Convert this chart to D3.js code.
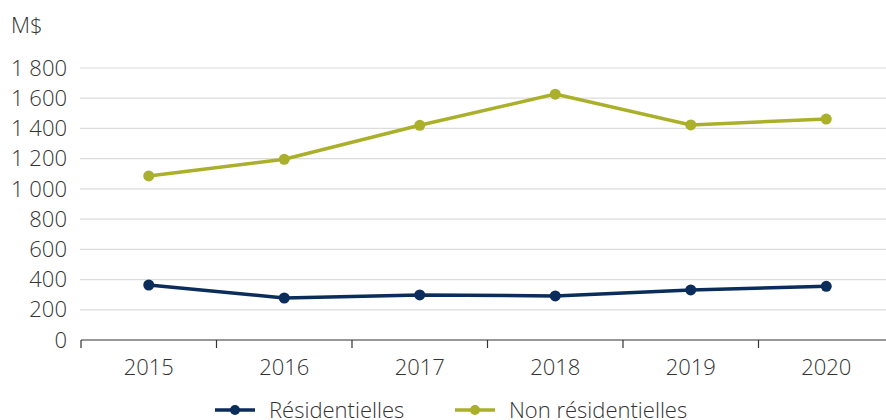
<!DOCTYPE html>
<html lang="fr">
<head>
  <meta charset="UTF-8">
  <title>M$</title>
  <script src="https://d3js.org/d3.v7.min.js"></script>
  <style>
    body { margin: 0; background: #fff; font-family: "Open Sans", sans-serif; }
    svg { display: block; }
    text { fill: #333; font-weight: 300; }
  </style>
</head>
<body>
  <svg width="886" height="420"></svg>
  <script>
    const years = ["2015", "2016", "2017", "2018", "2019", "2020"];
    const residentielles = [364, 278, 298, 292, 331, 355];
    const nonResidentielles = [1086, 1196, 1421, 1627, 1423, 1462];
    const yTicks = [0, 200, 400, 600, 800, 1000, 1200, 1400, 1600, 1800];
    const seriesNames = ["Résidentielles", "Non résidentielles"];
    const seriesColors = ["#0b2d5b", "#abb02a"];

    const svg = d3.select("svg");
    const x = d3.scaleBand().domain(years).range([81, 894]);
    const y = d3.scaleLinear().domain([0, 1800]).range([340, 68]);
    const fmt = v => d3.format(",")(v).replace(",", " ");

    // grid
    svg.append("g").selectAll("line").data(yTicks.slice(1)).join("line")
      .attr("x1", 80).attr("x2", 886)
      .attr("y1", d => y(d)).attr("y2", d => y(d))
      .attr("stroke", "#dcdcdc").attr("stroke-width", 1.2);

    // y labels
    svg.append("g").selectAll("text").data(yTicks).join("text")
      .attr("x", 67).attr("y", d => y(d)).attr("dy", "0.35em")
      .attr("text-anchor", "end").style("font-size", "22px")
      .text(fmt);

    svg.append("text").attr("x", 11).attr("y", 33)
      .style("font-size", "22px").text("M$");

    // x axis
    const xAxis = svg.append("g").attr("transform", "translate(0,340)");
    xAxis.append("line").attr("x1", 81).attr("x2", 886)
      .attr("stroke", "#333").attr("stroke-width", 1.2);
    xAxis.selectAll("line.tick").data(years).join("line").attr("class", "tick")
      .attr("x1", d => x(d)).attr("x2", d => x(d))
      .attr("y1", 0).attr("y2", 8)
      .attr("stroke", "#333").attr("stroke-width", 1.2);
    xAxis.selectAll("text").data(years).join("text")
      .attr("x", d => x(d) + x.bandwidth() / 2).attr("y", 35)
      .attr("text-anchor", "middle").style("font-size", "22px")
      .text(d => d);

    // lines
    const line = d3.line().x((d, i) => x(years[i]) + x.bandwidth() / 2).y(d => y(d));
    [nonResidentielles, residentielles].forEach((vals, k) => {
      const color = k === 0 ? seriesColors[1] : seriesColors[0];
      svg.append("path").datum(vals)
        .attr("fill", "none").attr("stroke", color).attr("stroke-width", 3.5)
        .attr("d", line);
      svg.append("g").selectAll("circle").data(vals).join("circle")
        .attr("cx", (d, i) => x(years[i]) + x.bandwidth() / 2)
        .attr("cy", d => y(d)).attr("r", 5.5).attr("fill", color);
    });

    // legend
    const legendX = [215, 455];
    seriesNames.forEach((name, i) => {
      const g = svg.append("g").attr("transform", `translate(${legendX[i]},410)`);
      g.append("line").attr("x1", 0).attr("x2", 40)
        .attr("stroke", seriesColors[i]).attr("stroke-width", 3.5);
      g.append("circle").attr("cx", 20).attr("r", 5).attr("fill", seriesColors[i]);
      g.append("text").attr("x", 54).attr("dy", "0.35em")
        .style("font-size", "22px").text(name);
    });
  </script>
</body>
</html>
